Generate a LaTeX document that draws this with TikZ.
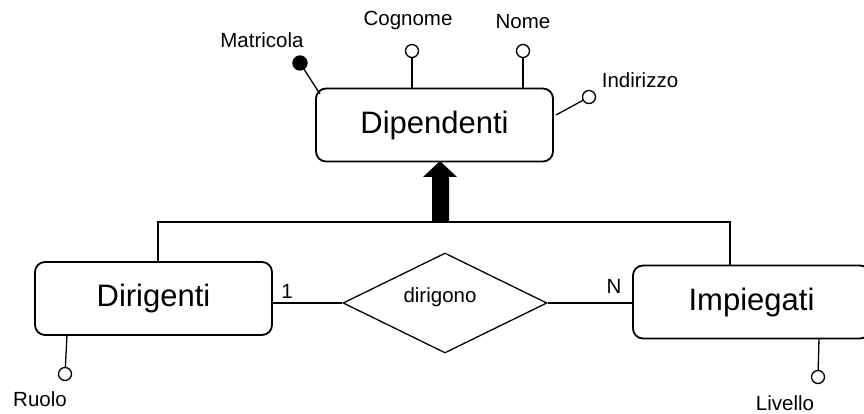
\documentclass[tikz,border=0pt]{standalone}
\usepackage{fontspec}
\setmainfont{Liberation Sans}
\usetikzlibrary{shapes.geometric}
\begin{document}
\begin{tikzpicture}[x=1pt,y=-1pt,
  entity/.style={draw,line width=1.8pt,rounded corners=10pt,minimum width=237pt,minimum height=73pt,inner sep=0pt,font=\fontsize{31}{36}\selectfont},
  rel/.style={draw,line width=1.3pt,diamond,minimum width=204pt,minimum height=100pt,aspect=2.04,inner sep=0pt,font=\fontsize{20.5}{24}\selectfont},
  lbl/.style={font=\fontsize{20.5}{24}\selectfont,inner sep=0pt},
  conn/.style={line width=1.3pt},
  attr/.style={circle,draw,line width=1.3pt,fill=white,minimum size=13pt,inner sep=0pt},
  keyattr/.style={circle,draw,line width=1.3pt,fill=black,minimum size=14pt,inner sep=0pt}]
\useasboundingbox (0,0) rectangle (864,414);
% entities
\node[entity] (dip) at (434.5,125) {Dipendenti};
\node[entity] (dir) at (153.5,298.5) {Dirigenti};
\node[entity] (imp) at (751.5,302) {Impiegati};
\node[rel] (dig) at (445,303) {};
\node[lbl] at (440,297) {dirigono};
% attributes of Dipendenti
\node[keyattr] (matr) at (300,63) {};
\node[lbl] at (262,40) {Matricola};
\coordinate (matrE) at (320,94);
\draw[conn] (matrE) -- (matr);
\node[attr] (cogn) at (412,51) {};
\node[lbl] at (408,20) {Cognome};
\coordinate (cognE) at (412,88);
\draw[conn] (cognE) -- (cogn);
\node[attr] (nome) at (523,51) {};
\node[lbl] at (523,22) {Nome};
\coordinate (nomeE) at (523,88);
\draw[conn] (nomeE) -- (nome);
\node[attr] (ind) at (589,97) {};
\node[lbl] at (640,80) {Indirizzo};
\coordinate (indE) at (556,115);
\draw[conn] (indE) -- (ind);
% Ruolo
\coordinate (ruoE) at (67,335);
\node[attr] (ruo) at (65,374) {};
\node[lbl] at (40,399) {Ruolo};
\draw[conn] (ruoE) -- (ruo);
% Livello
\coordinate (livE) at (819,338);
\node[attr] (liv) at (818,377) {};
\node[lbl] at (785,403) {Livello};
\draw[conn] (livE) -- (liv);
% generalization
\coordinate (gl) at (158,222);
\coordinate (gr) at (730,222);
\coordinate (dirT) at (158,262);
\coordinate (impT) at (730,266);
\draw[conn] (dirT) -- (gl) -- (gr) -- (impT);
\coordinate (tip) at (440,161);
\fill (tip) -- (457,177) -- (449,177) -- (449,222) -- (432,222) -- (432,177) -- (423,177) -- cycle;
% relationship
\draw[conn] (dir.east |- dig.west) -- (dig.west);
\draw[conn] (dig.east) -- (imp.west |- dig.east);
\node[lbl] at (287,291) {1};
\node[lbl] at (614,286) {N};
\end{tikzpicture}
\end{document}
